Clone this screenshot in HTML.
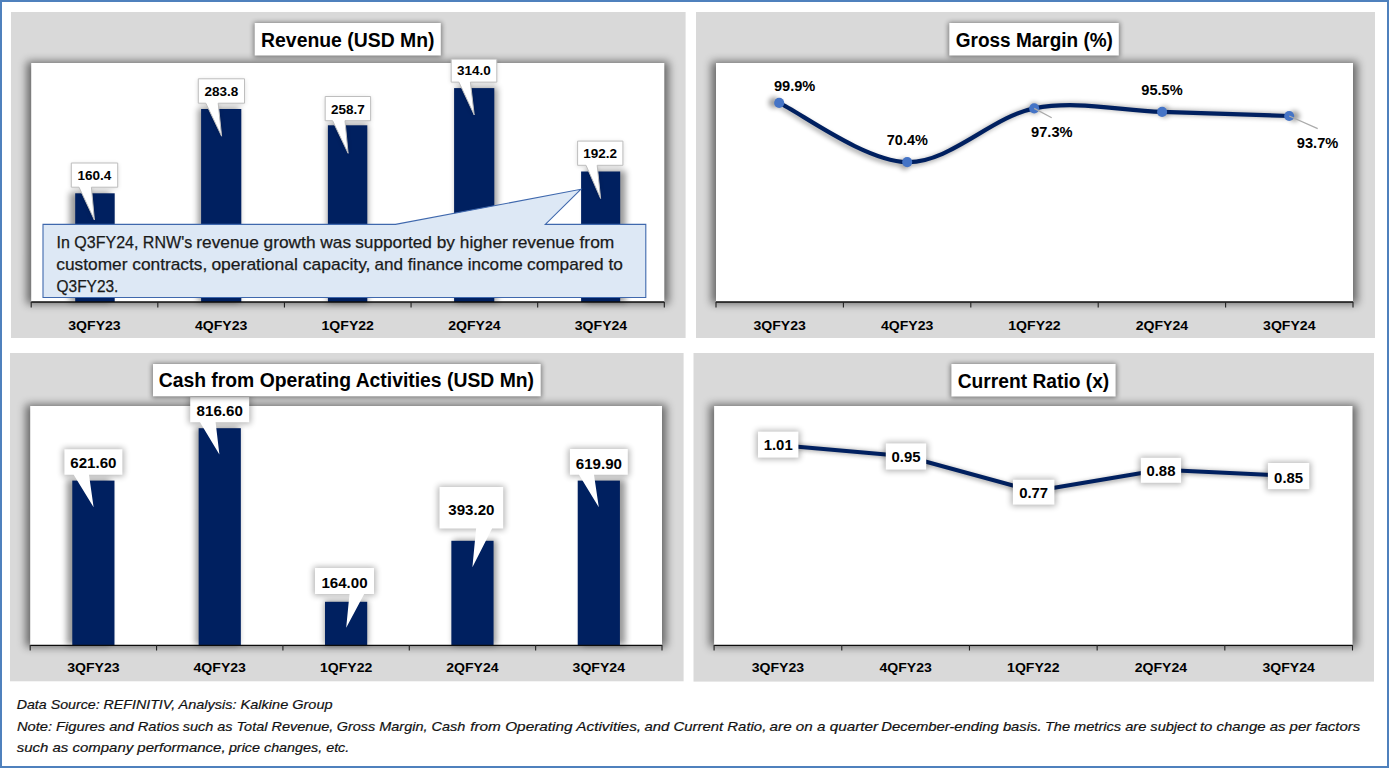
<!DOCTYPE html>
<html><head><meta charset="utf-8"><title>RNW charts</title>
<style>
html,body{margin:0;padding:0;background:#fff;overflow:hidden;width:1389px;height:768px;}
svg{display:block;font-family:"Liberation Sans", sans-serif;}
text{font-family:"Liberation Sans", sans-serif;}
</style></head><body>
<svg width="1389" height="768" viewBox="0 0 1389 768">
<defs>
<filter id="plotblur" x="-5%" y="-10%" width="110%" height="120%"><feGaussianBlur stdDeviation="4"/></filter>
<filter id="softblur" x="-20%" y="-40%" width="140%" height="180%"><feGaussianBlur stdDeviation="2.6"/></filter>
<filter id="labblur" x="-30%" y="-50%" width="160%" height="200%"><feGaussianBlur stdDeviation="3.2"/></filter>
<filter id="barblur" x="-60%" y="-10%" width="220%" height="120%"><feGaussianBlur stdDeviation="3.3"/></filter>
<filter id="lineblur" x="-5%" y="-40%" width="110%" height="180%"><feGaussianBlur stdDeviation="2.4"/></filter>
<clipPath id="clipTL"><rect x="11" y="12" width="674.6" height="326"/></clipPath>
<clipPath id="clipTR"><rect x="696" y="12" width="679" height="326"/></clipPath>
<clipPath id="clipBL"><rect x="10" y="353" width="673.6" height="328.29999999999995"/></clipPath>
<clipPath id="clipBR"><rect x="693.5" y="353" width="680.5" height="328.6"/></clipPath>
</defs>
<rect x="0" y="0" width="1389" height="768" fill="#fff"/>
<rect x="11" y="12" width="674.6" height="326" fill="#d9d9d9"/>
<g clip-path="url(#clipTL)">
<rect x="26.7" y="61.5" width="642.0999999999999" height="242.5" fill="#000" opacity="0.52" filter="url(#plotblur)"/>
</g>
<rect x="31.2" y="63" width="633.0999999999999" height="239" fill="#fff"/>
<g clip-path="url(#clipTL)">
<rect x="69.64" y="192.30" width="40.50" height="109.70" fill="#000" opacity="0.4" filter="url(#barblur)"/>
<rect x="198.07" y="108.00" width="41.20" height="194.00" fill="#000" opacity="0.4" filter="url(#barblur)"/>
<rect x="327.40" y="124.30" width="40.40" height="177.70" fill="#000" opacity="0.4" filter="url(#barblur)"/>
<rect x="456.13" y="87.10" width="41.20" height="214.90" fill="#000" opacity="0.4" filter="url(#barblur)"/>
<rect x="585.66" y="170.50" width="40.10" height="131.50" fill="#000" opacity="0.4" filter="url(#barblur)"/>
<rect x="75.20" y="193.30" width="39.50" height="108.70" fill="#002060"/>
<rect x="201.10" y="109.00" width="40.20" height="193.00" fill="#002060"/>
<rect x="327.90" y="125.30" width="39.40" height="176.70" fill="#002060"/>
<rect x="454.10" y="88.10" width="40.20" height="213.90" fill="#002060"/>
<rect x="581.10" y="171.50" width="39.10" height="130.50" fill="#002060"/>
</g>
<path d="M71.3 163.0H117.7V187.2H91.4L94.4 220.0L79.0 187.2H71.3Z" fill="#000" opacity="0.16" filter="url(#softblur)" transform="translate(0,1)"/>
<path d="M71.3 163.0H117.7V187.2H91.4L94.4 220.0L79.0 187.2H71.3Z" fill="#fff" stroke="#bebebe" stroke-width="1"/>
<text x="77.60" y="180.30" font-size="13.5" font-weight="bold" font-style="normal" fill="#000" stroke="#000" stroke-width="0" textLength="33.80" lengthAdjust="spacingAndGlyphs">160.4</text>
<path d="M198.3 78.8H244.5V103.2H218.2L221.6 136.2L205.8 103.2H198.3Z" fill="#000" opacity="0.16" filter="url(#softblur)" transform="translate(0,1)"/>
<path d="M198.3 78.8H244.5V103.2H218.2L221.6 136.2L205.8 103.2H198.3Z" fill="#fff" stroke="#bebebe" stroke-width="1"/>
<text x="204.50" y="96.00" font-size="13.5" font-weight="bold" font-style="normal" fill="#000" stroke="#000" stroke-width="0" textLength="33.80" lengthAdjust="spacingAndGlyphs">283.8</text>
<path d="M325.2 96.5H370.6V120.7H345.0L348.1 153.3L332.6 120.7H325.2Z" fill="#000" opacity="0.16" filter="url(#softblur)" transform="translate(0,1)"/>
<path d="M325.2 96.5H370.6V120.7H345.0L348.1 153.3L332.6 120.7H325.2Z" fill="#fff" stroke="#bebebe" stroke-width="1"/>
<text x="331.00" y="113.80" font-size="13.5" font-weight="bold" font-style="normal" fill="#000" stroke="#000" stroke-width="0" textLength="33.80" lengthAdjust="spacingAndGlyphs">258.7</text>
<path d="M451.2 59.1H496.8V82.1H470.4L474.2 114.9L458.9 82.1H451.2Z" fill="#000" opacity="0.16" filter="url(#softblur)" transform="translate(0,1)"/>
<path d="M451.2 59.1H496.8V82.1H470.4L474.2 114.9L458.9 82.1H451.2Z" fill="#fff" stroke="#bebebe" stroke-width="1"/>
<text x="457.10" y="75.10" font-size="13.5" font-weight="bold" font-style="normal" fill="#000" stroke="#000" stroke-width="0" textLength="33.80" lengthAdjust="spacingAndGlyphs">314.0</text>
<path d="M577.6 141.1H622.9V165.3H597.2L600.6 198.5L586.0 165.3H577.6Z" fill="#000" opacity="0.16" filter="url(#softblur)" transform="translate(0,1)"/>
<path d="M577.6 141.1H622.9V165.3H597.2L600.6 198.5L586.0 165.3H577.6Z" fill="#fff" stroke="#bebebe" stroke-width="1"/>
<text x="583.35" y="158.20" font-size="13.5" font-weight="bold" font-style="normal" fill="#000" stroke="#000" stroke-width="0" textLength="33.80" lengthAdjust="spacingAndGlyphs">192.2</text>
<path d="M43 224.4H395.5L580.8 189.3L545.3 224.4H645.8V297.5H43Z" fill="#dde8f5" stroke="#3f68ad" stroke-width="1.1" stroke-linejoin="miter"/>
<text x="56.50" y="247.70" font-size="16.6" font-weight="normal" font-style="normal" fill="#1a1a1a" stroke="#1a1a1a" stroke-width="0.25" textLength="135.70" lengthAdjust="spacingAndGlyphs">In Q3FY24, RNW's</text>
<text x="196.30" y="247.70" font-size="16.6" font-weight="normal" font-style="normal" fill="#1a1a1a" stroke="#1a1a1a" stroke-width="0.25" textLength="154.80" lengthAdjust="spacingAndGlyphs">revenue growth was</text>
<text x="355.20" y="247.70" font-size="16.6" font-weight="normal" font-style="normal" fill="#1a1a1a" stroke="#1a1a1a" stroke-width="0.25" textLength="152.60" lengthAdjust="spacingAndGlyphs">supported by higher</text>
<text x="511.90" y="247.70" font-size="16.6" font-weight="normal" font-style="normal" fill="#1a1a1a" stroke="#1a1a1a" stroke-width="0.25" textLength="102.40" lengthAdjust="spacingAndGlyphs">revenue from</text>
<text x="56.30" y="270.30" font-size="16.6" font-weight="normal" font-style="normal" fill="#1a1a1a" stroke="#1a1a1a" stroke-width="0.25" textLength="151.00" lengthAdjust="spacingAndGlyphs">customer contracts,</text>
<text x="211.40" y="270.30" font-size="16.6" font-weight="normal" font-style="normal" fill="#1a1a1a" stroke="#1a1a1a" stroke-width="0.25" textLength="159.10" lengthAdjust="spacingAndGlyphs">operational capacity,</text>
<text x="374.60" y="270.30" font-size="16.6" font-weight="normal" font-style="normal" fill="#1a1a1a" stroke="#1a1a1a" stroke-width="0.25" textLength="148.30" lengthAdjust="spacingAndGlyphs">and finance income</text>
<text x="527.00" y="270.30" font-size="16.6" font-weight="normal" font-style="normal" fill="#1a1a1a" stroke="#1a1a1a" stroke-width="0.25" textLength="95.90" lengthAdjust="spacingAndGlyphs">compared to</text>
<text x="56.50" y="292.40" font-size="16.6" font-weight="normal" font-style="normal" fill="#1a1a1a" stroke="#1a1a1a" stroke-width="0.25" textLength="61.90" lengthAdjust="spacingAndGlyphs">Q3FY23.</text>
<path d="M31.2 302.0H664.3" stroke="#0c0c0c" stroke-width="1.3" fill="none"/>
<path d="M31.20 302v5.5M157.82 302v5.5M284.44 302v5.5M411.06 302v5.5M537.68 302v5.5M664.30 302v5.5" stroke="#222" stroke-width="1.1" fill="none"/>
<text x="68.31" y="329.50" font-size="13.7" font-weight="bold" font-style="normal" fill="#000" stroke="#000" stroke-width="0" textLength="52.40" lengthAdjust="spacingAndGlyphs">3QFY23</text>
<text x="194.93" y="329.50" font-size="13.7" font-weight="bold" font-style="normal" fill="#000" stroke="#000" stroke-width="0" textLength="52.40" lengthAdjust="spacingAndGlyphs">4QFY23</text>
<text x="321.55" y="329.50" font-size="13.7" font-weight="bold" font-style="normal" fill="#000" stroke="#000" stroke-width="0" textLength="52.40" lengthAdjust="spacingAndGlyphs">1QFY22</text>
<text x="448.17" y="329.50" font-size="13.7" font-weight="bold" font-style="normal" fill="#000" stroke="#000" stroke-width="0" textLength="52.40" lengthAdjust="spacingAndGlyphs">2QFY24</text>
<text x="574.79" y="329.50" font-size="13.7" font-weight="bold" font-style="normal" fill="#000" stroke="#000" stroke-width="0" textLength="52.40" lengthAdjust="spacingAndGlyphs">3QFY24</text>
<rect x="253.7" y="22.5" width="188.10000000000002" height="34.5" fill="#000" opacity="0.45" filter="url(#softblur)"/>
<rect x="254.7" y="23" width="186.10000000000002" height="32.5" fill="#fff"/>
<text x="261.10" y="46.50" font-size="19.6" font-weight="bold" font-style="normal" fill="#000" stroke="#000" stroke-width="0" textLength="173.40" lengthAdjust="spacingAndGlyphs">Revenue (USD Mn)</text>
<rect x="696" y="12" width="679" height="326" fill="#d9d9d9"/>
<g clip-path="url(#clipTR)">
<rect x="711.5" y="61.5" width="646.0" height="242.5" fill="#000" opacity="0.52" filter="url(#plotblur)"/>
</g>
<rect x="716.0" y="63" width="637.0" height="239" fill="#fff"/>
<g filter="url(#lineblur)" opacity="0.37" transform="translate(1034.2,133.3) scale(1.02,1.04) translate(-1034.2,-132.5)">
<path d="M779.2 102.9C800.53 112.77 864.70 161.18 907.2 162.1C949.70 163.02 991.72 116.77 1034.2 108.4C1076.68 100.03 1119.60 110.63 1162.1 111.9C1204.60 113.17 1268.02 115.32 1289.2 116.0" fill="none" stroke="#000" stroke-width="4.4" stroke-linecap="round"/>
<circle cx="779.2" cy="102.9" r="5.4" fill="#000"/>
<circle cx="907.2" cy="162.1" r="5.4" fill="#000"/>
<circle cx="1034.2" cy="108.4" r="5.4" fill="#000"/>
<circle cx="1162.1" cy="111.9" r="5.4" fill="#000"/>
<circle cx="1289.2" cy="116.0" r="5.4" fill="#000"/>
</g>
<path d="M779.2 102.9C800.53 112.77 864.70 161.18 907.2 162.1C949.70 163.02 991.72 116.77 1034.2 108.4C1076.68 100.03 1119.60 110.63 1162.1 111.9C1204.60 113.17 1268.02 115.32 1289.2 116.0" fill="none" stroke="#002060" stroke-width="4.2" stroke-linecap="round"/>
<circle cx="779.2" cy="102.9" r="5.05" fill="#4574c6"/>
<circle cx="907.2" cy="162.1" r="5.05" fill="#4574c6"/>
<circle cx="1034.2" cy="108.4" r="5.05" fill="#4574c6"/>
<circle cx="1162.1" cy="111.9" r="5.05" fill="#4574c6"/>
<circle cx="1289.2" cy="116.0" r="5.05" fill="#4574c6"/>
<path d="M1034.2 108.4L1051.7 117.7M1289.2 116.0L1317.7 128.7" stroke="#ababab" stroke-width="1.3" fill="none"/>
<text x="773.90" y="90.70" font-size="14.7" font-weight="bold" font-style="normal" fill="#000" stroke="#000" stroke-width="0" textLength="41.40" lengthAdjust="spacingAndGlyphs">99.9%</text>
<text x="886.80" y="145.40" font-size="14.7" font-weight="bold" font-style="normal" fill="#000" stroke="#000" stroke-width="0" textLength="41.10" lengthAdjust="spacingAndGlyphs">70.4%</text>
<text x="1031.10" y="137.00" font-size="14.7" font-weight="bold" font-style="normal" fill="#000" stroke="#000" stroke-width="0" textLength="41.50" lengthAdjust="spacingAndGlyphs">97.3%</text>
<text x="1141.30" y="95.00" font-size="14.7" font-weight="bold" font-style="normal" fill="#000" stroke="#000" stroke-width="0" textLength="41.40" lengthAdjust="spacingAndGlyphs">95.5%</text>
<text x="1296.80" y="147.60" font-size="14.7" font-weight="bold" font-style="normal" fill="#000" stroke="#000" stroke-width="0" textLength="41.50" lengthAdjust="spacingAndGlyphs">93.7%</text>
<path d="M716.0 302.0H1353.0" stroke="#0c0c0c" stroke-width="1.3" fill="none"/>
<path d="M716.00 302v5.5M843.40 302v5.5M970.80 302v5.5M1098.20 302v5.5M1225.60 302v5.5M1353.00 302v5.5" stroke="#222" stroke-width="1.1" fill="none"/>
<text x="753.50" y="329.50" font-size="13.7" font-weight="bold" font-style="normal" fill="#000" stroke="#000" stroke-width="0" textLength="52.40" lengthAdjust="spacingAndGlyphs">3QFY23</text>
<text x="880.90" y="329.50" font-size="13.7" font-weight="bold" font-style="normal" fill="#000" stroke="#000" stroke-width="0" textLength="52.40" lengthAdjust="spacingAndGlyphs">4QFY23</text>
<text x="1008.30" y="329.50" font-size="13.7" font-weight="bold" font-style="normal" fill="#000" stroke="#000" stroke-width="0" textLength="52.40" lengthAdjust="spacingAndGlyphs">1QFY22</text>
<text x="1135.70" y="329.50" font-size="13.7" font-weight="bold" font-style="normal" fill="#000" stroke="#000" stroke-width="0" textLength="52.40" lengthAdjust="spacingAndGlyphs">2QFY24</text>
<text x="1263.10" y="329.50" font-size="13.7" font-weight="bold" font-style="normal" fill="#000" stroke="#000" stroke-width="0" textLength="52.40" lengthAdjust="spacingAndGlyphs">3QFY24</text>
<rect x="948.3" y="22.5" width="171.5" height="34.5" fill="#000" opacity="0.45" filter="url(#softblur)"/>
<rect x="949.3" y="23" width="169.5" height="32.5" fill="#fff"/>
<text x="955.80" y="46.50" font-size="19.6" font-weight="bold" font-style="normal" fill="#000" stroke="#000" stroke-width="0" textLength="157.10" lengthAdjust="spacingAndGlyphs">Gross Margin (%)</text>
<rect x="10" y="353" width="673.6" height="328.29999999999995" fill="#d9d9d9"/>
<g clip-path="url(#clipBL)">
<rect x="25.7" y="404.5" width="640.8" height="242.5" fill="#000" opacity="0.52" filter="url(#plotblur)"/>
</g>
<rect x="30.2" y="406" width="631.8" height="239" fill="#fff"/>
<g clip-path="url(#clipBL)">
<rect x="66.73" y="479.60" width="43.20" height="165.40" fill="#000" opacity="0.4" filter="url(#barblur)"/>
<rect x="195.61" y="427.20" width="43.20" height="217.80" fill="#000" opacity="0.4" filter="url(#barblur)"/>
<rect x="324.50" y="600.80" width="43.20" height="44.20" fill="#000" opacity="0.4" filter="url(#barblur)"/>
<rect x="453.39" y="539.80" width="43.20" height="105.20" fill="#000" opacity="0.4" filter="url(#barblur)"/>
<rect x="582.27" y="479.60" width="43.20" height="165.40" fill="#000" opacity="0.4" filter="url(#barblur)"/>
<rect x="72.28" y="480.60" width="42.20" height="164.40" fill="#002060"/>
<rect x="198.64" y="428.20" width="42.20" height="216.80" fill="#002060"/>
<rect x="325.00" y="601.80" width="42.20" height="43.20" fill="#002060"/>
<rect x="451.36" y="540.80" width="42.20" height="104.20" fill="#002060"/>
<rect x="577.72" y="480.60" width="42.20" height="164.40" fill="#002060"/>
</g>
<path d="M30.2 645.4H662.0" stroke="#0c0c0c" stroke-width="1.3" fill="none"/>
<path d="M30.20 645v5.5M156.56 645v5.5M282.92 645v5.5M409.28 645v5.5M535.64 645v5.5M662.00 645v5.5" stroke="#222" stroke-width="1.1" fill="none"/>
<text x="67.18" y="671.70" font-size="13.7" font-weight="bold" font-style="normal" fill="#000" stroke="#000" stroke-width="0" textLength="52.40" lengthAdjust="spacingAndGlyphs">3QFY23</text>
<text x="193.54" y="671.70" font-size="13.7" font-weight="bold" font-style="normal" fill="#000" stroke="#000" stroke-width="0" textLength="52.40" lengthAdjust="spacingAndGlyphs">4QFY23</text>
<text x="319.90" y="671.70" font-size="13.7" font-weight="bold" font-style="normal" fill="#000" stroke="#000" stroke-width="0" textLength="52.40" lengthAdjust="spacingAndGlyphs">1QFY22</text>
<text x="446.26" y="671.70" font-size="13.7" font-weight="bold" font-style="normal" fill="#000" stroke="#000" stroke-width="0" textLength="52.40" lengthAdjust="spacingAndGlyphs">2QFY24</text>
<text x="572.62" y="671.70" font-size="13.7" font-weight="bold" font-style="normal" fill="#000" stroke="#000" stroke-width="0" textLength="52.40" lengthAdjust="spacingAndGlyphs">3QFY24</text>
<rect x="62.900000000000006" y="448.3" width="61.0" height="28.0" fill="#000" opacity="0.31" filter="url(#labblur)"/>
<path d="M64.4 449.3H122.4V474.8H89.0L93.6 507.3L73.7 474.8H64.4Z" fill="#fff"/>
<text x="70.30" y="467.60" font-size="14.7" font-weight="bold" font-style="normal" fill="#000" stroke="#000" stroke-width="0" textLength="46.20" lengthAdjust="spacingAndGlyphs">621.60</text>
<rect x="188.7" y="396.0" width="62.0" height="27.80000000000001" fill="#000" opacity="0.31" filter="url(#labblur)"/>
<path d="M190.2 397.0H249.2V422.3H215.6L219.4 454.5L200.0 422.3H190.2Z" fill="#fff"/>
<text x="196.60" y="415.90" font-size="14.7" font-weight="bold" font-style="normal" fill="#000" stroke="#000" stroke-width="0" textLength="46.20" lengthAdjust="spacingAndGlyphs">816.60</text>
<rect x="313.5" y="567.1" width="62.0" height="28.5" fill="#000" opacity="0.31" filter="url(#labblur)"/>
<path d="M315.0 568.1H374.0V594.1H364.2L346.2 627.7L349.5 594.1H315.0Z" fill="#fff"/>
<text x="321.40" y="588.00" font-size="14.7" font-weight="bold" font-style="normal" fill="#000" stroke="#000" stroke-width="0" textLength="46.20" lengthAdjust="spacingAndGlyphs">164.00</text>
<rect x="438.0" y="486.0" width="66.69999999999999" height="44.0" fill="#000" opacity="0.31" filter="url(#labblur)"/>
<path d="M439.5 487.0H503.2V528.5H492.1L472.4 567.2L476.1 528.5H439.5Z" fill="#fff"/>
<text x="448.25" y="514.60" font-size="14.7" font-weight="bold" font-style="normal" fill="#000" stroke="#000" stroke-width="0" textLength="46.20" lengthAdjust="spacingAndGlyphs">393.20</text>
<rect x="568.4" y="448.1" width="60.89999999999998" height="28.19999999999999" fill="#000" opacity="0.31" filter="url(#labblur)"/>
<path d="M569.9 449.1H627.8V474.8H594.0L598.8 507.3L579.0 474.8H569.9Z" fill="#fff"/>
<text x="575.75" y="468.60" font-size="14.7" font-weight="bold" font-style="normal" fill="#000" stroke="#000" stroke-width="0" textLength="46.20" lengthAdjust="spacingAndGlyphs">619.90</text>
<rect x="152.0" y="363.5" width="389.70000000000005" height="34.30000000000001" fill="#000" opacity="0.45" filter="url(#softblur)"/>
<rect x="153.0" y="364" width="387.70000000000005" height="32.30000000000001" fill="#fff"/>
<text x="158.70" y="387.30" font-size="19.6" font-weight="bold" font-style="normal" fill="#000" stroke="#000" stroke-width="0" textLength="375.30" lengthAdjust="spacingAndGlyphs">Cash from Operating Activities (USD Mn)</text>
<rect x="693.5" y="353" width="680.5" height="328.6" fill="#d9d9d9"/>
<g clip-path="url(#clipBR)">
<rect x="709.6" y="404.5" width="647.4" height="242.5" fill="#000" opacity="0.52" filter="url(#plotblur)"/>
</g>
<rect x="714.1" y="406" width="638.4" height="239" fill="#fff"/>
<path d="M778.0 445.0L906.0 456.3L1033.5 491.2L1161.0 469.8L1288.5 475.7" fill="none" stroke="#000" stroke-width="4.4" opacity="0.38" filter="url(#lineblur)" transform="translate(1033.3,469.3) scale(1.02,1.04) translate(-1033.3,-468.5)"/>
<path d="M778.0 445.0L906.0 456.3L1033.5 491.2L1161.0 469.8L1288.5 475.7" fill="none" stroke="#002060" stroke-width="4.1" stroke-linejoin="round"/>
<rect x="756.5" y="430.6" width="43.39999999999998" height="28.5" fill="#000" opacity="0.31" filter="url(#labblur)"/>
<rect x="758.0" y="431.6" width="40.39999999999998" height="26.0" fill="#fff"/>
<text x="763.70" y="450.10" font-size="14.7" font-weight="bold" font-style="normal" fill="#000" stroke="#000" stroke-width="0" textLength="29.00" lengthAdjust="spacingAndGlyphs">1.01</text>
<rect x="884.3" y="442.4" width="43.40000000000009" height="28.700000000000045" fill="#000" opacity="0.31" filter="url(#labblur)"/>
<rect x="885.8" y="443.4" width="40.40000000000009" height="26.200000000000045" fill="#fff"/>
<text x="891.50" y="462.00" font-size="14.7" font-weight="bold" font-style="normal" fill="#000" stroke="#000" stroke-width="0" textLength="29.00" lengthAdjust="spacingAndGlyphs">0.95</text>
<rect x="1011.4" y="478.7" width="44.500000000000114" height="27.400000000000034" fill="#000" opacity="0.31" filter="url(#labblur)"/>
<rect x="1012.9" y="479.7" width="41.500000000000114" height="24.900000000000034" fill="#fff"/>
<text x="1019.15" y="498.20" font-size="14.7" font-weight="bold" font-style="normal" fill="#000" stroke="#000" stroke-width="0" textLength="29.00" lengthAdjust="spacingAndGlyphs">0.77</text>
<rect x="1139.3" y="456.8" width="43.299999999999955" height="27.5" fill="#000" opacity="0.31" filter="url(#labblur)"/>
<rect x="1140.8" y="457.8" width="40.299999999999955" height="25.0" fill="#fff"/>
<text x="1146.45" y="476.10" font-size="14.7" font-weight="bold" font-style="normal" fill="#000" stroke="#000" stroke-width="0" textLength="29.00" lengthAdjust="spacingAndGlyphs">0.88</text>
<rect x="1266.4" y="462.0" width="44.399999999999864" height="28.69999999999999" fill="#000" opacity="0.31" filter="url(#labblur)"/>
<rect x="1267.9" y="463.0" width="41.399999999999864" height="26.19999999999999" fill="#fff"/>
<text x="1274.10" y="482.90" font-size="14.7" font-weight="bold" font-style="normal" fill="#000" stroke="#000" stroke-width="0" textLength="29.00" lengthAdjust="spacingAndGlyphs">0.85</text>
<path d="M714.1 645.4H1352.5" stroke="#0c0c0c" stroke-width="1.3" fill="none"/>
<path d="M714.10 645v5.5M841.78 645v5.5M969.46 645v5.5M1097.14 645v5.5M1224.82 645v5.5M1352.50 645v5.5" stroke="#222" stroke-width="1.1" fill="none"/>
<text x="751.74" y="671.90" font-size="13.7" font-weight="bold" font-style="normal" fill="#000" stroke="#000" stroke-width="0" textLength="52.40" lengthAdjust="spacingAndGlyphs">3QFY23</text>
<text x="879.42" y="671.90" font-size="13.7" font-weight="bold" font-style="normal" fill="#000" stroke="#000" stroke-width="0" textLength="52.40" lengthAdjust="spacingAndGlyphs">4QFY23</text>
<text x="1007.10" y="671.90" font-size="13.7" font-weight="bold" font-style="normal" fill="#000" stroke="#000" stroke-width="0" textLength="52.40" lengthAdjust="spacingAndGlyphs">1QFY22</text>
<text x="1134.78" y="671.90" font-size="13.7" font-weight="bold" font-style="normal" fill="#000" stroke="#000" stroke-width="0" textLength="52.40" lengthAdjust="spacingAndGlyphs">2QFY24</text>
<text x="1262.46" y="671.90" font-size="13.7" font-weight="bold" font-style="normal" fill="#000" stroke="#000" stroke-width="0" textLength="52.40" lengthAdjust="spacingAndGlyphs">3QFY24</text>
<rect x="950.4" y="363.5" width="166.19999999999993" height="34.5" fill="#000" opacity="0.45" filter="url(#softblur)"/>
<rect x="951.4" y="364" width="164.19999999999993" height="32.5" fill="#fff"/>
<text x="957.70" y="387.50" font-size="19.6" font-weight="bold" font-style="normal" fill="#000" stroke="#000" stroke-width="0" textLength="151.60" lengthAdjust="spacingAndGlyphs">Current Ratio (x)</text>
<text x="16.70" y="708.90" font-size="13.6" font-weight="normal" font-style="italic" fill="#111" stroke="#111" stroke-width="0.2" textLength="158.50" lengthAdjust="spacingAndGlyphs">Data Source: REFINITIV,</text>
<text x="178.50" y="708.90" font-size="13.6" font-weight="normal" font-style="italic" fill="#111" stroke="#111" stroke-width="0.2" textLength="154.10" lengthAdjust="spacingAndGlyphs">Analysis: Kalkine Group</text>
<text x="16.90" y="730.70" font-size="13.6" font-weight="normal" font-style="italic" fill="#111" stroke="#111" stroke-width="0.2" textLength="162.50" lengthAdjust="spacingAndGlyphs">Note: Figures and Ratios</text>
<text x="182.70" y="730.70" font-size="13.6" font-weight="normal" font-style="italic" fill="#111" stroke="#111" stroke-width="0.2" textLength="150.70" lengthAdjust="spacingAndGlyphs">such as Total Revenue,</text>
<text x="336.70" y="730.70" font-size="13.6" font-weight="normal" font-style="italic" fill="#111" stroke="#111" stroke-width="0.2" textLength="128.60" lengthAdjust="spacingAndGlyphs">Gross Margin, Cash</text>
<text x="470.20" y="730.70" font-size="13.6" font-weight="normal" font-style="italic" fill="#111" stroke="#111" stroke-width="0.2" textLength="170.90" lengthAdjust="spacingAndGlyphs">from Operating Activities,</text>
<text x="644.40" y="730.70" font-size="13.6" font-weight="normal" font-style="italic" fill="#111" stroke="#111" stroke-width="0.2" textLength="121.90" lengthAdjust="spacingAndGlyphs">and Current Ratio,</text>
<text x="769.60" y="730.70" font-size="13.6" font-weight="normal" font-style="italic" fill="#111" stroke="#111" stroke-width="0.2" textLength="108.40" lengthAdjust="spacingAndGlyphs">are on a quarter</text>
<text x="881.30" y="730.70" font-size="13.6" font-weight="normal" font-style="italic" fill="#111" stroke="#111" stroke-width="0.2" textLength="160.30" lengthAdjust="spacingAndGlyphs">December-ending basis.</text>
<text x="1044.90" y="730.70" font-size="13.6" font-weight="normal" font-style="italic" fill="#111" stroke="#111" stroke-width="0.2" textLength="151.70" lengthAdjust="spacingAndGlyphs">The metrics are subject</text>
<text x="1199.90" y="730.70" font-size="13.6" font-weight="normal" font-style="italic" fill="#111" stroke="#111" stroke-width="0.2" textLength="160.30" lengthAdjust="spacingAndGlyphs">to change as per factors</text>
<text x="16.70" y="752.40" font-size="13.6" font-weight="normal" font-style="italic" fill="#111" stroke="#111" stroke-width="0.2" textLength="208.90" lengthAdjust="spacingAndGlyphs">such as company performance,</text>
<text x="228.90" y="752.40" font-size="13.6" font-weight="normal" font-style="italic" fill="#111" stroke="#111" stroke-width="0.2" textLength="120.40" lengthAdjust="spacingAndGlyphs">price changes, etc.</text>
<rect x="1" y="1" width="1387" height="766" fill="none" stroke="#4f81bd" stroke-width="2"/>
</svg></body></html>
